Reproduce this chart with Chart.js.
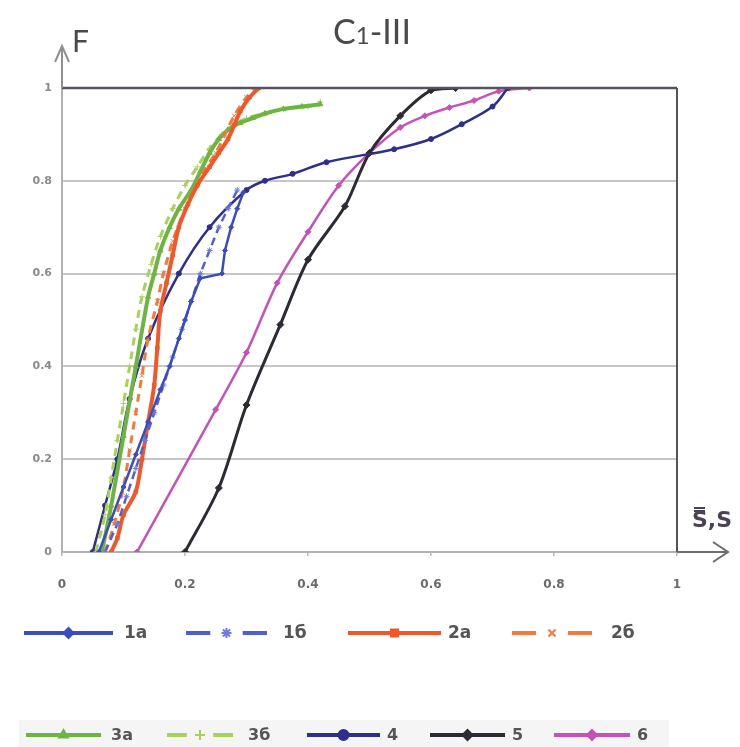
<!DOCTYPE html>
<html>
<head>
<meta charset="utf-8">
<script src="https://cdn.jsdelivr.net/npm/chart.js@4/dist/chart.umd.min.js"></script>
<style>
  html, body { margin: 0; padding: 0; background: #ffffff; }
  canvas { display: block; }
</style>
</head>
<body>
<canvas id="c" width="740" height="747"></canvas>
<script>
// Cumulative distributions F(S) for the C1-III sample groups
const seriesLabels = ['1а', '1б', '2а', '2б', '3а', '3б', '4', '5', '6'];

const x1a = [0.06, 0.08, 0.10, 0.12, 0.14, 0.16, 0.175, 0.19, 0.20, 0.21, 0.225, 0.26, 0.265, 0.275, 0.285, 0.295];
const y1a = [0, 0.07, 0.14, 0.21, 0.28, 0.35, 0.40, 0.46, 0.50, 0.54, 0.59, 0.60, 0.65, 0.70, 0.74, 0.775];

const x1b = [0.07, 0.09, 0.105, 0.12, 0.135, 0.15, 0.165, 0.18, 0.195, 0.21, 0.225, 0.24, 0.255, 0.27, 0.285];
const y1b = [0, 0.06, 0.12, 0.18, 0.24, 0.30, 0.36, 0.42, 0.48, 0.54, 0.60, 0.65, 0.70, 0.74, 0.78];

const x2a = [0.08, 0.09, 0.10, 0.12, 0.13, 0.14, 0.15, 0.155, 0.16, 0.17, 0.18, 0.19, 0.205, 0.22, 0.24, 0.255, 0.27, 0.28, 0.29, 0.305, 0.32];
const y2a = [0, 0.03, 0.08, 0.13, 0.20, 0.28, 0.36, 0.44, 0.52, 0.58, 0.64, 0.70, 0.75, 0.79, 0.83, 0.86, 0.89, 0.92, 0.95, 0.98, 1.0];

const x2b = [0.07, 0.085, 0.10, 0.11, 0.12, 0.13, 0.14, 0.155, 0.165, 0.18, 0.20, 0.215, 0.23, 0.25, 0.265, 0.28, 0.30, 0.315];
const y2b = [0, 0.06, 0.14, 0.22, 0.30, 0.38, 0.46, 0.54, 0.60, 0.67, 0.74, 0.78, 0.82, 0.86, 0.90, 0.94, 0.98, 1.0];

const x3a = [0.065, 0.08, 0.10, 0.12, 0.14, 0.15, 0.16, 0.175, 0.19, 0.21, 0.225, 0.24, 0.255, 0.27, 0.29, 0.31, 0.33, 0.36, 0.39, 0.42];
const y3a = [0, 0.10, 0.25, 0.40, 0.55, 0.60, 0.65, 0.70, 0.74, 0.78, 0.82, 0.86, 0.89, 0.91, 0.925, 0.935, 0.945, 0.955, 0.96, 0.965];

const x3b = [0.055, 0.07, 0.08, 0.09, 0.10, 0.11, 0.12, 0.13, 0.145, 0.16, 0.18, 0.20, 0.22, 0.24, 0.26, 0.28, 0.30, 0.33, 0.36, 0.40, 0.42];
const y3b = [0, 0.08, 0.16, 0.24, 0.32, 0.40, 0.48, 0.55, 0.62, 0.68, 0.74, 0.79, 0.83, 0.87, 0.90, 0.92, 0.935, 0.945, 0.955, 0.96, 0.97];

const x4 = [0.05, 0.07, 0.09, 0.11, 0.14, 0.19, 0.24, 0.30, 0.33, 0.375, 0.43, 0.54, 0.60, 0.65, 0.70, 0.725];
const y4 = [0, 0.10, 0.20, 0.33, 0.46, 0.60, 0.70, 0.78, 0.80, 0.815, 0.84, 0.868, 0.89, 0.922, 0.96, 1.0];

const x5 = [0.20, 0.255, 0.30, 0.355, 0.40, 0.46, 0.50, 0.55, 0.60, 0.64];
const y5 = [0, 0.138, 0.317, 0.49, 0.63, 0.745, 0.86, 0.94, 0.995, 1.0];

const x6 = [0.122, 0.25, 0.30, 0.35, 0.40, 0.45, 0.50, 0.55, 0.59, 0.63, 0.67, 0.71, 0.76];
const y6 = [0, 0.307, 0.43, 0.58, 0.69, 0.79, 0.86, 0.915, 0.94, 0.958, 0.973, 0.993, 1.0];

const axisTicks = [0, 0.2, 0.4, 0.6, 0.8, 1];

function pts(xs, ys) {
  return xs.map((x, i) => ({ x: x, y: ys[i] }));
}

function series(label, xs, ys, color, width, dash, style, radius, tension, pointColor) {
  return {
    label: label,
    data: pts(xs, ys),
    showLine: true,
    borderColor: color,
    backgroundColor: pointColor || color,
    pointBorderColor: pointColor || color,
    borderWidth: width,
    borderDash: dash,
    pointStyle: style,
    pointRadius: radius,
    pointBorderWidth: 1,
    tension: tension
  };
}

const datasets = [
  series(seriesLabels[0], x1a, y1a, '#3A4DBF', 2.5, [], 'rectRot', 2.5, 0),
  series(seriesLabels[1], x1b, y1b, '#4F5FCF', 2.5, [8, 5], 'star', 3, 0, '#6E7CE6'),
  series(seriesLabels[2], x2a, y2a, '#F0582A', 4, [], 'rect', 2.5, 0.3),
  series(seriesLabels[3], x2b, y2b, '#F37A3C', 3, [8, 6], 'crossRot', 3, 0.3),
  series(seriesLabels[4], x3a, y3a, '#6DB543', 4, [], 'triangle', 3, 0.3),
  series(seriesLabels[5], x3b, y3b, '#A9D25A', 3, [8, 6], 'cross', 3, 0.3),
  series(seriesLabels[6], x4, y4, '#2F2E8A', 2.5, [], 'circle', 2.5, 0.35),
  series(seriesLabels[7], x5, y5, '#2E2A33', 3, [], 'rectRot', 3.5, 0.3),
  series(seriesLabels[8], x6, y6, '#C452B8', 2.5, [], 'rectRot', 3, 0.3)
];

// Legend slots: [sample start, sample end, text x] for each row
const legendRows = [
  { y: 633, items: [[24, 113, 124], [186, 267, 283], [348, 441, 448], [512, 592, 611]], font: 'bold 17px "DejaVu Sans"' },
  { y: 735, items: [[26, 101, 111], [167, 233, 248], [307, 380, 387], [430, 505, 512], [554, 630, 637]], font: 'bold 16px "DejaVu Sans"' }
];

const decorations = {
  id: 'decorations',
  afterDraw(chart) {
    const ctx = chart.ctx;
    const a = chart.chartArea;
    ctx.save();

    // frame: top line at F = 1 and right edge at S = 1
    ctx.strokeStyle = '#57525f';
    ctx.lineWidth = 2.5;
    ctx.beginPath();
    ctx.moveTo(a.left, a.top);
    ctx.lineTo(a.right, a.top);
    ctx.stroke();
    ctx.lineWidth = 2;
    ctx.beginPath();
    ctx.moveTo(a.right, a.top);
    ctx.lineTo(a.right, a.bottom);
    ctx.stroke();

    // axis arrows
    ctx.strokeStyle = '#8f8f8f';
    ctx.lineWidth = 2;
    ctx.beginPath();
    ctx.moveTo(a.left, a.top);
    ctx.lineTo(a.left, 46);
    ctx.moveTo(a.left - 7, 62);
    ctx.lineTo(a.left, 46);
    ctx.lineTo(a.left + 7, 62);
    ctx.stroke();
    ctx.strokeStyle = '#6d6d6d';
    ctx.beginPath();
    ctx.moveTo(a.right, a.bottom);
    ctx.lineTo(728, a.bottom);
    ctx.moveTo(713, a.bottom - 10);
    ctx.lineTo(728, a.bottom);
    ctx.lineTo(713, a.bottom + 10);
    ctx.stroke();

    // axis names
    ctx.fillStyle = '#4a4a4a';
    ctx.textBaseline = 'alphabetic';
    ctx.textAlign = 'left';
    ctx.font = '30px Lato';
    ctx.fillText('F', 72, 52);
    ctx.fillStyle = '#4a4256';
    ctx.font = 'bold 22px "DejaVu Sans"';
    ctx.fillText('S\u033F,S', 692, 527);

    // title C1-III with a small index
    ctx.fillStyle = '#4a4a4a';
    const big = '34px Lato', small = '24px Lato';
    ctx.font = big;
    const wC = ctx.measureText('C').width;
    const wR = ctx.measureText('-III').width;
    ctx.font = small;
    const w1 = ctx.measureText('1').width;
    let tx = 372 - (wC + w1 + wR) / 2;
    const ty = 44;
    ctx.font = big; ctx.fillText('C', tx, ty); tx += wC;
    ctx.font = small; ctx.fillText('1', tx, ty); tx += w1;
    ctx.font = big; ctx.fillText('-III', tx, ty);

    // legend
    ctx.fillStyle = '#f5f5f5';
    ctx.fillRect(19, 720, 650, 27);
    let k = 0;
    legendRows.forEach(row => {
      row.items.forEach(slot => {
        const ds = chart.data.datasets[k++];
        const [x0, x1, tx2] = slot;
        const cx = (x0 + x1) / 2;
        const dashed = ds.borderDash && ds.borderDash.length;
        ctx.strokeStyle = ds.borderColor;
        ctx.lineWidth = 4;
        ctx.beginPath();
        if (dashed) {
          // dash, gap, marker, gap, dash
          const seg = (x1 - x0) * 0.3;
          ctx.moveTo(x0, row.y); ctx.lineTo(x0 + seg, row.y);
          ctx.moveTo(x1 - seg, row.y); ctx.lineTo(x1, row.y);
        } else {
          ctx.moveTo(x0, row.y); ctx.lineTo(x1, row.y);
        }
        ctx.stroke();
        ctx.fillStyle = ds.backgroundColor;
        ctx.strokeStyle = ds.pointBorderColor;
        ctx.lineWidth = 2;
        Chart.helpers.drawPoint(ctx, { pointStyle: ds.pointStyle, radius: 5, borderWidth: 2, rotation: 0 }, cx, row.y);
        ctx.fillStyle = '#555555';
        ctx.font = row.font;
        ctx.textAlign = 'left';
        ctx.textBaseline = 'middle';
        ctx.fillText(ds.label, tx2, row.y + 1);
      });
    });
    ctx.restore();
  }
};

new Chart(document.getElementById('c'), {
  type: 'scatter',
  data: { datasets: datasets },
  plugins: [decorations],
  options: {
    responsive: false,
    animation: false,
    devicePixelRatio: 1,
    layout: { padding: { left: 22, right: 63, top: 88, bottom: 135 } },
    plugins: { legend: { display: false }, tooltip: { enabled: false }, title: { display: false } },
    scales: {
      x: {
        type: 'linear',
        min: 0, max: 1,
        afterFit(s) { s.height = 60; },
        afterBuildTicks(s) { s.ticks = axisTicks.map(v => ({ value: v })); },
        ticks: {
          padding: 22,
          color: '#6a6a6a',
          font: { family: 'DejaVu Sans', size: 12, weight: 'bold' },
          callback: v => String(+v.toFixed(1))
        },
        grid: { display: true, drawOnChartArea: false, drawTicks: true, tickLength: 4, color: '#b8b8b8', lineWidth: 1.5 },
        border: { display: true, color: '#b2b2b2', width: 2 }
      },
      y: {
        type: 'linear',
        min: 0, max: 1,
        afterFit(s) { s.width = 40; },
        afterBuildTicks(s) { s.ticks = axisTicks.map(v => ({ value: v })); },
        ticks: {
          padding: 10,
          color: '#8a8a8a',
          font: { family: 'DejaVu Sans', size: 11, weight: 'bold' },
          callback: v => String(+v.toFixed(1))
        },
        grid: {
          drawTicks: false,
          lineWidth: 2,
          color: c => (c.tick && c.tick.value > 0.01 && c.tick.value < 0.99) ? '#c6c6c6' : 'rgba(0,0,0,0)'
        },
        border: { display: true, color: '#b2b2b2', width: 2 }
      }
    }
  }
});
</script>
</body>
</html>
